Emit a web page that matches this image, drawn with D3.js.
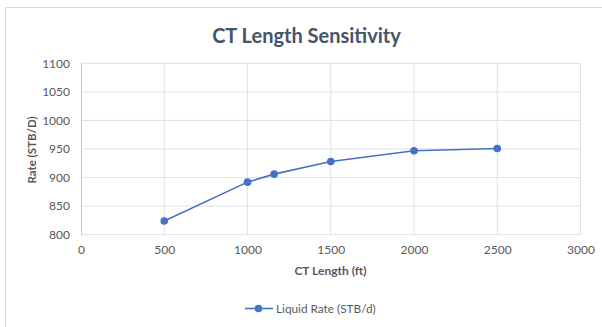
<!DOCTYPE html>
<html>
<head>
<meta charset="utf-8">
<script src="https://cdn.jsdelivr.net/npm/d3@7"></script>
<style>
  html, body { margin: 0; padding: 0; background: #fff; }
  svg { display: block; }
</style>
</head>
<body>
<svg id="chart" width="602" height="327"></svg>
<script>
// CT length (ft) vs liquid rate (STB/d)
const ctLength = [500, 1000, 1160, 1500, 2000, 2500];
const liquidRate = [824, 892, 906, 928, 947, 951];
const xTicks = [0, 500, 1000, 1500, 2000, 2500, 3000];
const yTicks = [800, 850, 900, 950, 1000, 1050, 1100];
const seriesName = "Liquid Rate (STB/d)";

const svg = d3.select("#chart");
const font = "Lato, 'Open Sans', sans-serif";
const blue = "#4472c4";

const plot = { left: 81, right: 580.5, top: 63.3, bottom: 234.7 };

const x = d3.scaleLinear().domain([0, 3000]).range([plot.left, plot.right]);
const y = d3.scaleLinear().domain([800, 1100]).range([plot.bottom, plot.top]);

// chart frame
svg.append("rect")
  .attr("x", 5.5).attr("y", 7.5)
  .attr("width", 700).attr("height", 400)
  .attr("fill", "none").attr("stroke", "#d9d9d9").attr("stroke-width", 1);

// title
svg.append("text")
  .attr("x", 306.5).attr("y", 43)
  .attr("text-anchor", "middle")
  .attr("font-family", font).attr("font-weight", "bold")
  .attr("font-size", 20).attr("fill", "#44546a")
  .text("CT Length Sensitivity");

// gridlines
svg.append("g")
  .selectAll("line.h")
  .data(yTicks)
  .join("line")
  .attr("x1", plot.left).attr("x2", plot.right)
  .attr("y1", d => y(d)).attr("y2", d => y(d))
  .attr("stroke", "#dde1e8").attr("stroke-width", 1);

svg.append("g")
  .selectAll("line.v")
  .data(xTicks.slice(1))
  .join("line")
  .attr("x1", d => x(d)).attr("x2", d => x(d))
  .attr("y1", plot.top).attr("y2", plot.bottom)
  .attr("stroke", "#dde1e8").attr("stroke-width", 1);

// axes
const xAxis = svg.append("g")
  .attr("transform", `translate(0,${plot.bottom})`)
  .call(d3.axisBottom(x).tickValues(xTicks).tickSize(0).tickPadding(11).tickFormat(d3.format("d")));
xAxis.select(".domain").remove();

const yAxis = svg.append("g")
  .attr("transform", `translate(${plot.left},0)`)
  .call(d3.axisLeft(y).tickValues(yTicks).tickSize(0).tickPadding(11).tickFormat(d3.format("d")));
yAxis.select(".domain").attr("stroke", "#c4cad4");

svg.selectAll(".tick text")
  .attr("font-family", font).attr("font-size", 12).attr("fill", "#595959");

// axis titles
svg.append("text")
  .attr("x", 330.5).attr("y", 275)
  .attr("text-anchor", "middle")
  .attr("font-family", font).attr("font-weight", "bold")
  .attr("font-size", 12).attr("fill", "#595959")
  .text("CT Length (ft)");

svg.append("text")
  .attr("transform", "translate(36,150) rotate(-90)")
  .attr("text-anchor", "middle")
  .attr("font-family", font).attr("font-weight", "bold")
  .attr("font-size", 11.5).attr("fill", "#595959")
  .text("Rate (STB/D)");

// series
const data = ctLength.map((d, i) => ({ x: d, y: liquidRate[i] }));

svg.append("path")
  .datum(data)
  .attr("fill", "none").attr("stroke", blue).attr("stroke-width", 1.6)
  .attr("d", d3.line().x(d => x(d.x)).y(d => y(d.y)));

svg.append("g")
  .selectAll("circle")
  .data(data)
  .join("circle")
  .attr("cx", d => x(d.x)).attr("cy", d => y(d.y))
  .attr("r", 3.8).attr("fill", blue);

// legend
const legend = svg.append("g").attr("transform", "translate(245,308.5)");
legend.append("line")
  .attr("x1", 0).attr("x2", 28).attr("y1", 0).attr("y2", 0)
  .attr("stroke", blue).attr("stroke-width", 1.6);
legend.append("circle").attr("cx", 13.5).attr("cy", 0).attr("r", 3.8).attr("fill", blue);
legend.append("text")
  .attr("x", 31).attr("y", 4)
  .attr("font-family", font).attr("font-size", 11.8).attr("fill", "#595959")
  .text(seriesName);
</script>
</body>
</html>
